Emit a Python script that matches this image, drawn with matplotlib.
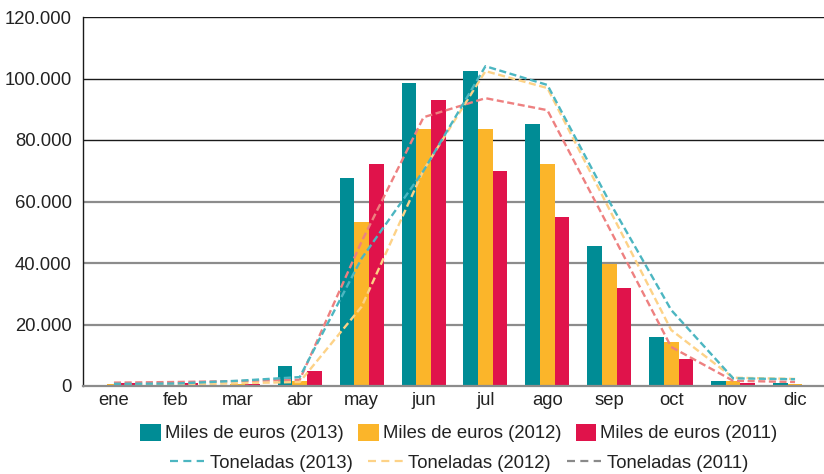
import matplotlib
matplotlib.use("Agg")
import matplotlib.pyplot as plt
from matplotlib.lines import Line2D
from matplotlib.patches import Patch
from matplotlib.ticker import FuncFormatter
import numpy as np

months = ['ene', 'feb', 'mar', 'abr', 'may', 'jun', 'jul', 'ago', 'sep', 'oct', 'nov', 'dic']
eur_2013 = [200, 300, 400, 6500, 67600, 98500, 102400, 85200, 45500, 15900, 1600, 900]
eur_2012 = [500, 300, 600, 1700, 53300, 83600, 83600, 72200, 39800, 14300, 1700, 800]
eur_2011 = [1000, 1000, 800, 4900, 72200, 93000, 69900, 54900, 31900, 8700, 900, 100]
ton_2013 = [700, 800, 1700, 2900, 41500, 70000, 104000, 97900, 60000, 24700, 2500, 2200]
ton_2012 = [300, 400, 900, 1300, 25800, 70200, 102400, 96900, 57500, 18200, 2700, 2300]
ton_2011 = [1100, 1300, 1600, 2000, 47000, 87400, 93600, 89700, 51300, 12700, 1700, 1300]
yticks = [0, 20000, 40000, 60000, 80000, 100000, 120000]

bar_labels = ['Miles de euros (2013)', 'Miles de euros (2012)', 'Miles de euros (2011)']
line_labels = ['Toneladas (2013)', 'Toneladas (2012)', 'Toneladas (2011)']
bar_colors = ['#008c95', '#fbb52a', '#e0134b']
line_colors = ['#4cb6c1', '#fdd287', '#ee8080']
legend_line_colors = ['#4cb6c1', '#fdd287', '#8a8a8a']

plt.rcParams['font.family'] = ['Liberation Sans', 'DejaVu Sans']
FS = 13.3

W, H = 824, 474
fig = plt.figure(figsize=(W / 100, H / 100), dpi=100)
left, right, bottom, top = 83, 826, 386, 17
ax = fig.add_axes([left / W, 1 - bottom / H, (right - left) / W, (bottom - top) / H])

x = np.arange(len(months))
bw = 0.237
for i, (vals, c) in enumerate(zip([eur_2013, eur_2012, eur_2011], bar_colors)):
    ax.bar(x + (i - 1) * bw, vals, width=bw, color=c, zorder=3, linewidth=0)

for vals, c in zip([ton_2011, ton_2012, ton_2013], line_colors[::-1]):
    ax.plot(x, vals, color=c, lw=1.7, dashes=(3.0, 1.5), zorder=4)

ax.set_xlim(-0.5, 11.5)
ax.set_ylim(0, 120000)
ax.set_yticks(yticks)
ax.yaxis.set_major_formatter(FuncFormatter(lambda v, p: f"{int(v):,}".replace(",", ".")))
ax.set_xticks(x)
ax.set_xticklabels(months)
ax.tick_params(axis='both', length=0, labelsize=FS, colors='#222222')
ax.tick_params(axis='y', pad=8)
ax.tick_params(axis='x', pad=4)

for v in yticks[1:]:
    if v >= 80000:
        ax.axhline(v, color='#1a1a1a', lw=1.0, zorder=1)
    else:
        ax.axhline(v, color='#8c8c8c', lw=1.6, zorder=1)

for s in ['top', 'right']:
    ax.spines[s].set_visible(False)
ax.spines['left'].set_color('#1a1a1a')
ax.spines['left'].set_linewidth(1.0)
ax.spines['bottom'].set_color('#8c8c8c')
ax.spines['bottom'].set_linewidth(1.6)
ax.spines['bottom'].set_zorder(5)

h1 = [Patch(facecolor=c, edgecolor='none') for c in bar_colors]
leg1 = fig.legend(h1, bar_labels, loc='center', bbox_to_anchor=(459 / W, 1 - 433 / H),
                  ncol=3, frameon=False, fontsize=FS, handlelength=1.1, handleheight=1.05,
                  handletextpad=0.22, columnspacing=0.8, labelcolor='#222222',
                  borderpad=0, borderaxespad=0)
h2 = [Line2D([0], [0], color=c, lw=1.6, dashes=(3.6, 2.4)) for c in legend_line_colors]
leg2 = fig.legend(h2, line_labels, loc='center', bbox_to_anchor=(459 / W, 1 - 463 / H),
                  ncol=3, frameon=False, fontsize=FS, handlelength=1.85,
                  handletextpad=0.32, columnspacing=0.86, labelcolor='#222222',
                  borderpad=0, borderaxespad=0)

fig.savefig('out.png', dpi=100)
